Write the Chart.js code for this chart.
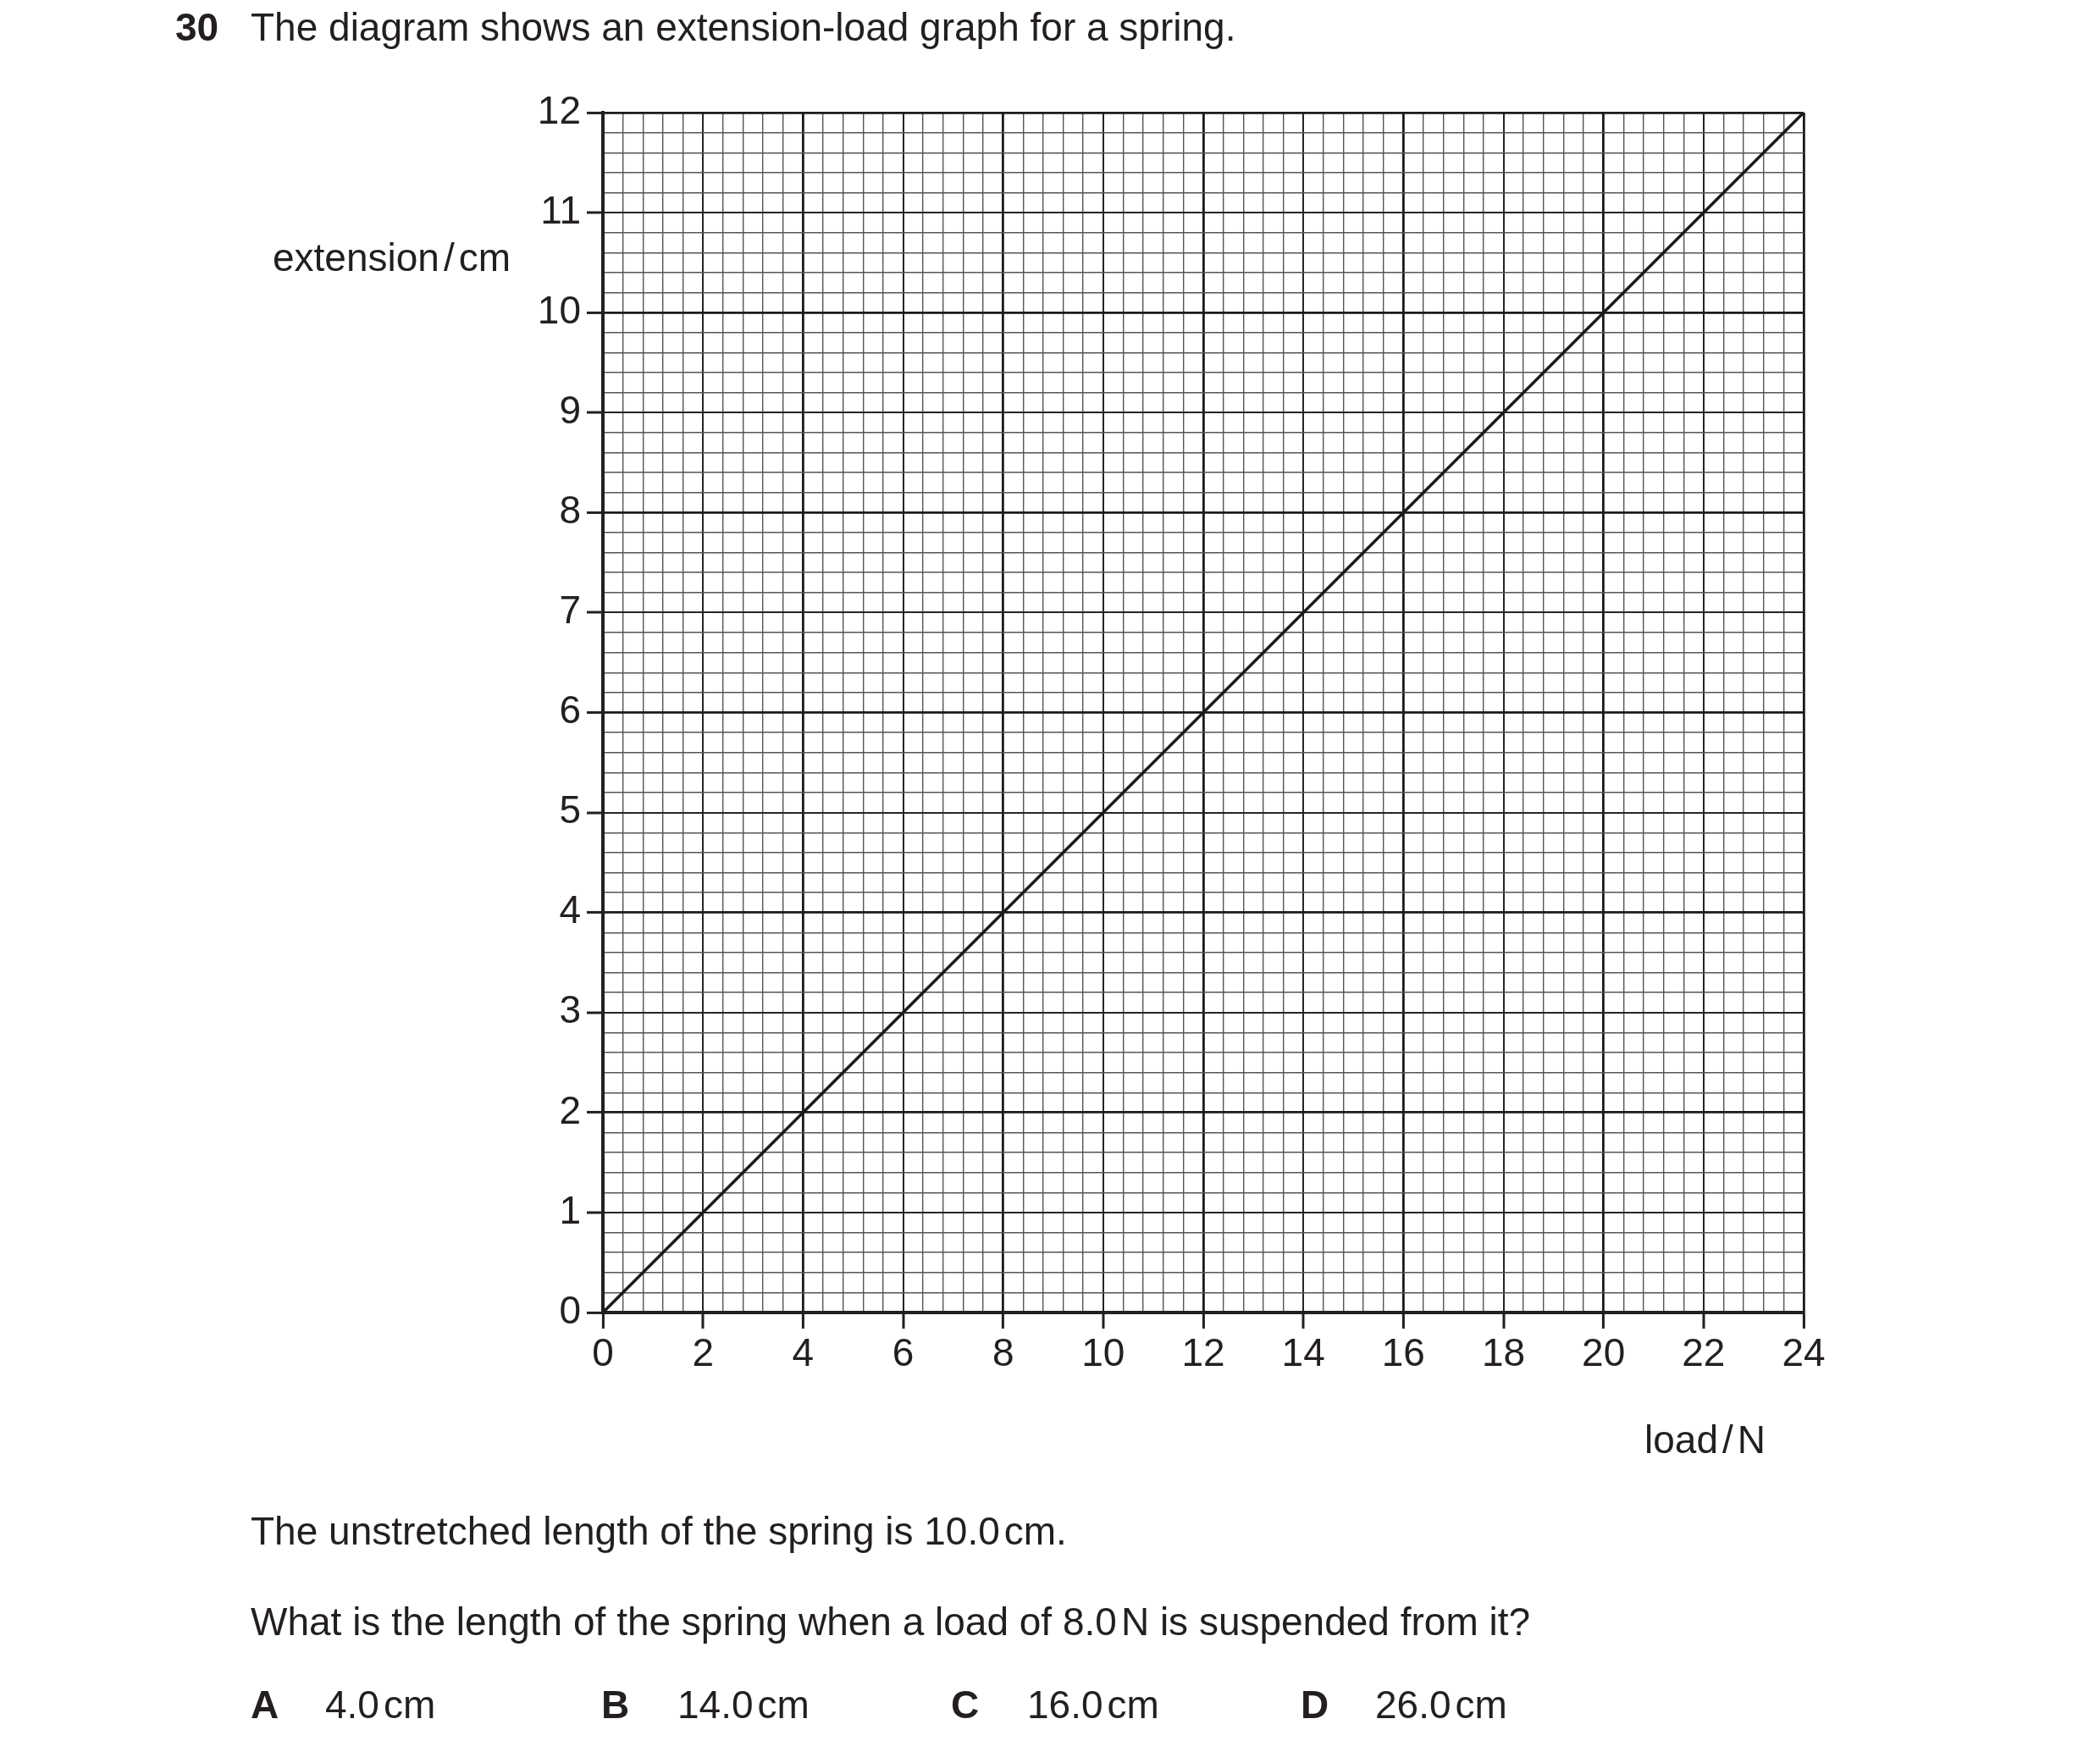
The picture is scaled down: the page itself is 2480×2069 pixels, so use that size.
<!DOCTYPE html>
<html>
<head>
<meta charset="utf-8">
<script src="https://cdn.jsdelivr.net/npm/chart.js@4.4.0/dist/chart.umd.min.js"></script>
<style>
  body { margin: 0; background: #fff; width: 2480px; height: 2069px; position: relative; overflow: hidden;
         font-family: "Liberation Sans", Arial, sans-serif; color: #231f20; }
  #wrap { position: absolute; left: 0; top: 0; width: 2480px; height: 2069px; }
  .t { position: absolute; font-size: 46px; line-height: 46px; white-space: nowrap; }
  .b { font-weight: bold; }
  .s { display: inline-block; width: 5px; }
</style>
</head>
<body>
<div id="wrap"><canvas id="chart"></canvas></div>

<div class="t b" style="left:207px; top:9px">30</div>
<div class="t" style="left:296px; top:9px">The diagram shows an extension-load graph for a spring.</div>
<div class="t" style="right:1877px; top:281px">extension<span class="s"></span>/<span class="s"></span>cm</div>
<div class="t" style="left:1942px; top:1677px">load<span class="s"></span>/<span class="s"></span>N</div>
<div class="t" style="left:296px; top:1785px">The unstretched length of the spring is 10.0<span class="s"></span>cm.</div>
<div class="t" style="left:296px; top:1892px">What is the length of the spring when a load of 8.0<span class="s"></span>N is suspended from it?</div>
<div class="t b" style="left:296px; top:1990px">A</div>
<div class="t" style="left:384px; top:1990px">4.0<span class="s"></span>cm</div>
<div class="t b" style="left:710px; top:1990px">B</div>
<div class="t" style="left:800px; top:1990px">14.0<span class="s"></span>cm</div>
<div class="t b" style="left:1123px; top:1990px">C</div>
<div class="t" style="left:1213px; top:1990px">16.0<span class="s"></span>cm</div>
<div class="t b" style="left:1536px; top:1990px">D</div>
<div class="t" style="left:1624px; top:1990px">26.0<span class="s"></span>cm</div>

<script>
// data: straight line through the origin
const loads = [0, 24];
const extensions = [0, 12];

// labelled ticks
const xTickLabels = [0, 2, 4, 6, 8, 10, 12, 14, 16, 18, 20, 22, 24];
const yTickLabels = [0, 1, 2, 3, 4, 5, 6, 7, 8, 9, 10, 11, 12];

const ink = "#231f20";
const fontSpec = { family: "'Liberation Sans', Arial, sans-serif", size: 46 };

const near = (a, b) => Math.abs(a - b) < 1e-6;
const multipleOf = (v, m) => near(v / m, Math.round(v / m));
const isLabel = (v, list) => list.some((l) => near(l, v));

// grid styling: heavy / medium / fine lines like graph paper
const gridColor = (major, mid) => (ctx) => {
  const v = ctx.tick.value;
  if (multipleOf(v, major)) return "#1c1a1b";
  if (multipleOf(v, mid)) return "#262425";
  return "#555";
};
const gridWidth = (major, mid) => (ctx) => {
  const v = ctx.tick.value;
  if (multipleOf(v, major)) return 2.8;
  if (multipleOf(v, mid)) return 2;
  return 1.4;
};

new Chart(document.getElementById("chart"), {
  type: "line",
  data: {
    datasets: [
      {
        data: loads.map((x, i) => ({ x: x, y: extensions[i] })),
        borderColor: "#1c1a1b",
        borderWidth: 3.5,
        pointRadius: 0,
        fill: false,
        tension: 0,
      },
    ],
  },
  options: {
    responsive: true,
    maintainAspectRatio: false,
    animation: false,
    devicePixelRatio: 1,
    layout: { padding: { left: 500, top: 133, right: 350, bottom: 399 } },
    plugins: { legend: { display: false }, tooltip: { enabled: false } },
    scales: {
      x: {
        type: "linear",
        min: 0,
        max: 24,
        afterFit: (s) => { s.height = 120; },
        ticks: {
          stepSize: 0.4,
          autoSkip: false,
          maxRotation: 0,
          padding: 4,
          color: ink,
          font: fontSpec,
          callback: (v) => (isLabel(v, xTickLabels) ? String(Math.round(v)) : ""),
        },
        grid: {
          color: gridColor(4, 2),
          lineWidth: gridWidth(4, 2),
          drawTicks: true,
          tickLength: 19,
          tickWidth: 3,
          tickColor: (ctx) => (isLabel(ctx.tick.value, xTickLabels) ? ink : "rgba(0,0,0,0)"),
        },
        border: { display: true, color: ink, width: 4 },
      },
      y: {
        type: "linear",
        min: 0,
        max: 12,
        afterFit: (s) => { s.width = 212; },
        ticks: {
          stepSize: 0.2,
          autoSkip: false,
          padding: 7,
          color: ink,
          font: fontSpec,
          callback: (v) => (isLabel(v, yTickLabels) ? String(Math.round(v)) : ""),
        },
        grid: {
          color: gridColor(2, 1),
          lineWidth: gridWidth(2, 1),
          drawTicks: true,
          tickLength: 19,
          tickWidth: 3,
          tickColor: (ctx) => (isLabel(ctx.tick.value, yTickLabels) ? ink : "rgba(0,0,0,0)"),
        },
        border: { display: true, color: ink, width: 4 },
      },
    },
  },
});
</script>
</body>
</html>
